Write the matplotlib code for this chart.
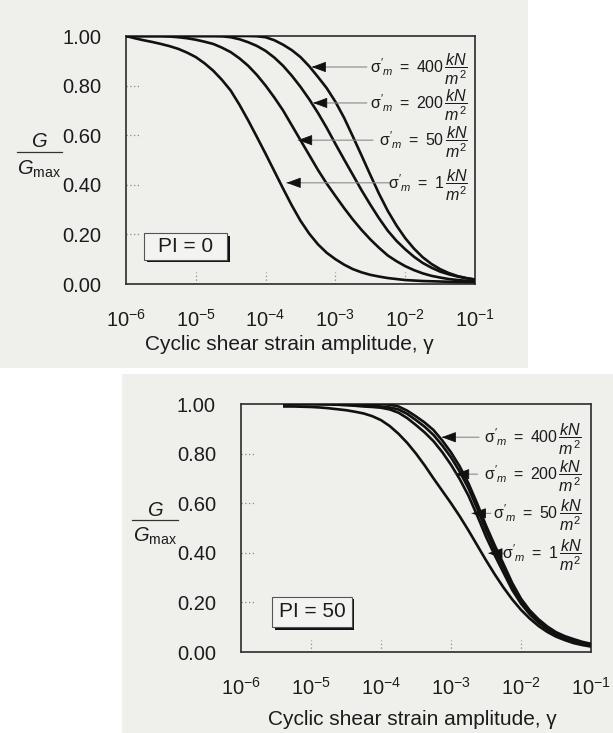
import numpy as np
import matplotlib
matplotlib.use('Agg')
import matplotlib.pyplot as plt
from matplotlib.patches import Rectangle
from matplotlib.lines import Line2D
from matplotlib.ticker import NullLocator
from matplotlib import transforms

plt.rcParams['font.family'] = ['Liberation Sans', 'DejaVu Sans']
plt.rcParams['mathtext.fontset'] = 'custom'
plt.rcParams['mathtext.rm'] = 'Liberation Sans'
plt.rcParams['mathtext.it'] = 'Liberation Sans:italic'
plt.rcParams['mathtext.bf'] = 'Liberation Sans:bold'
plt.rcParams['mathtext.default'] = 'regular'

# ---------------- data ----------------
# log10 of cyclic shear strain amplitude, top panel (PI = 0)
log_strain_top = [-6.0, -5.875, -5.75, -5.625, -5.5, -5.375, -5.25, -5.125, -5.0, -4.875,
                  -4.75, -4.625, -4.5, -4.375, -4.25, -4.125, -4.0, -3.875, -3.75, -3.625,
                  -3.5, -3.375, -3.25, -3.125, -3.0, -2.875, -2.75, -2.625, -2.5, -2.375,
                  -2.25, -2.125, -2.0, -1.875, -1.75, -1.625, -1.5, -1.375, -1.25, -1.125, -1.0]
g_top_1 = [1.0, 0.991, 0.983, 0.976, 0.968, 0.959, 0.948, 0.933, 0.915, 0.89,
           0.86, 0.823, 0.78, 0.723, 0.66, 0.593, 0.525, 0.455, 0.385, 0.317,
           0.255, 0.203, 0.16, 0.126, 0.10, 0.078, 0.06, 0.047, 0.037, 0.03,
           0.024, 0.02, 0.016, 0.014, 0.012, 0.011, 0.01, 0.009, 0.008, 0.0075, 0.007]
g_top_50 = [1.0, 1.0, 1.0, 1.0, 1.0, 0.998, 0.995, 0.991, 0.985, 0.977,
            0.968, 0.953, 0.935, 0.91, 0.88, 0.843, 0.80, 0.752, 0.70, 0.64,
            0.58, 0.52, 0.46, 0.405, 0.355, 0.306, 0.26, 0.218, 0.18, 0.146,
            0.115, 0.092, 0.072, 0.056, 0.043, 0.033, 0.026, 0.02, 0.016, 0.013, 0.01]
g_top_200 = [1.0, 1.0, 1.0, 1.0, 1.0, 1.0, 1.0, 1.0, 1.0, 1.0,
             1.0, 0.999, 0.995, 0.987, 0.975, 0.96, 0.94, 0.913, 0.88, 0.84,
             0.795, 0.745, 0.69, 0.63, 0.565, 0.502, 0.44, 0.378, 0.32, 0.265,
             0.215, 0.174, 0.14, 0.11, 0.085, 0.066, 0.05, 0.039, 0.03, 0.023, 0.018]
g_top_400 = [1.0, 1.0, 1.0, 1.0, 1.0, 1.0, 1.0, 1.0, 1.0, 1.0,
             1.0, 1.0, 1.0, 1.0, 1.0, 0.999, 0.995, 0.983, 0.965, 0.943,
             0.915, 0.878, 0.835, 0.79, 0.735, 0.67, 0.595, 0.518, 0.44, 0.364,
             0.295, 0.236, 0.185, 0.143, 0.108, 0.081, 0.06, 0.044, 0.032, 0.024, 0.018]

# bottom panel (PI = 50)
log_strain_bot = [-5.4, -5.25, -5.125, -5.0, -4.875, -4.75, -4.625, -4.5, -4.375, -4.25,
                  -4.125, -4.0, -3.875, -3.75, -3.625, -3.5, -3.375, -3.25, -3.125, -3.0,
                  -2.875, -2.75, -2.625, -2.5, -2.375, -2.25, -2.125, -2.0, -1.875, -1.75,
                  -1.625, -1.5, -1.375, -1.25, -1.125, -1.0]
g_bot_1 = [0.99, 0.99, 0.989, 0.988, 0.986, 0.983, 0.979, 0.975, 0.969, 0.962,
           0.951, 0.935, 0.911, 0.88, 0.843, 0.80, 0.752, 0.70, 0.65, 0.60,
           0.547, 0.49, 0.43, 0.37, 0.313, 0.26, 0.212, 0.17, 0.135, 0.105,
           0.081, 0.062, 0.048, 0.036, 0.028, 0.022]
g_bot_50 = [1.0, 1.0, 1.0, 1.0, 0.999, 0.998, 0.997, 0.995, 0.993, 0.99,
            0.988, 0.985, 0.978, 0.965, 0.943, 0.915, 0.885, 0.85, 0.806, 0.755,
            0.697, 0.63, 0.55, 0.465, 0.39, 0.32, 0.25, 0.195, 0.152, 0.118,
            0.091, 0.07, 0.055, 0.044, 0.035, 0.028]
g_bot_200 = [1.0, 1.0, 1.0, 1.0, 1.0, 1.0, 1.0, 1.0, 0.998, 0.995,
             0.993, 0.99, 0.986, 0.978, 0.96, 0.935, 0.908, 0.875, 0.833, 0.785,
             0.727, 0.66, 0.578, 0.49, 0.41, 0.34, 0.265, 0.205, 0.16, 0.125,
             0.097, 0.075, 0.06, 0.048, 0.038, 0.03]
g_bot_400 = [1.0, 1.0, 1.0, 1.0, 1.0, 1.0, 1.0, 1.0, 1.0, 1.0,
             1.0, 1.0, 0.997, 0.99, 0.973, 0.95, 0.925, 0.895, 0.853, 0.805,
             0.748, 0.68, 0.598, 0.51, 0.43, 0.355, 0.278, 0.215, 0.168, 0.132,
             0.103, 0.08, 0.064, 0.052, 0.041, 0.033]

sigma_labels = ['400', '200', '50', '1']
y_ticks = [0.0, 0.2, 0.4, 0.6, 0.8, 1.0]
x_exponents = [-6, -5, -4, -3, -2, -1]

# arrow tips / tails (log10 strain, G) for 400, 200, 50, 1
top_tip_log = [-3.34, -3.32, -3.536, -3.70]
top_tail_log = [-2.55, -2.55, -2.46, -2.22]
top_arrow_g = [0.875, 0.73, 0.58, 0.408]
bot_tip_log = [-3.133, -2.943, -2.704, -2.467]
bot_tail_log = [-2.60, -2.62, -2.43, -2.25]
bot_arrow_g = [0.866, 0.717, 0.559, 0.398]

# ---------------- figure ----------------
W, H = 613, 733
fig = plt.figure(figsize=(W / 100, H / 100), dpi=100)
fig.patch.set_facecolor('white')


def fx(px):
    return px / W


def fy(py):
    return 1 - py / H


scan = '#efefec'
fig.patches.append(Rectangle((0, fy(368)), fx(528), 1 - fy(368), transform=fig.transFigure,
                             facecolor=scan, edgecolor='none', zorder=-5))
fig.patches.append(Rectangle((fx(122), 0), 1 - fx(122), fy(374), transform=fig.transFigure,
                             facecolor=scan, edgecolor='none', zorder=-5))

ax1 = fig.add_axes([fx(126), fy(284), fx(475) - fx(126), fy(36) - fy(284)])
ax2 = fig.add_axes([fx(241), fy(652), fx(591) - fx(241), fy(404) - fy(652)])

ink = '#1c1c1c'


def style(ax, wpx, hpx, xlab_xy):
    ax.set_xscale('log')
    ax.set_xlim(1e-6, 1e-1)
    ax.set_ylim(0, 1)
    ax.patch.set_alpha(0)
    ax.set_xticks([10.0 ** e for e in x_exponents])
    ax.set_xticklabels([rf'$10^{{{e}}}$' for e in x_exponents])
    ax.xaxis.set_minor_locator(NullLocator())
    ax.set_yticks(y_ticks)
    ax.set_yticklabels([f'{v:.2f}' for v in y_ticks])
    ax.tick_params(length=0, labelsize=14.5, colors=ink)
    ax.tick_params(axis='y', pad=18)
    ax.tick_params(axis='x', pad=18)
    for s in ax.spines.values():
        s.set_linewidth(1.25)
        s.set_color('#333333')
    ax.set_xlabel('Cyclic shear strain amplitude, γ', fontsize=15, color=ink)
    ax.xaxis.set_label_coords(*xlab_xy)
    ty = ax.get_yaxis_transform()
    for v in y_ticks[1:-1]:
        ax.plot([0, 14 / wpx], [v, v], transform=ty, ls=(0, (1, 2)), color='#888', lw=0.9)
    tx = ax.get_xaxis_transform()
    for e in x_exponents[1:-1]:
        ax.plot([10.0 ** e] * 2, [0, 12 / hpx], transform=tx, ls=(0, (1, 2)), color='#888', lw=0.9)


style(ax1, 349, 248, (0.4685, -0.205))
style(ax2, 350, 248, (0.4886, -0.234))

curve_kw = dict(color='#111111', lw=1.9, solid_capstyle='butt', solid_joinstyle='round', zorder=3)
xt = 10.0 ** np.array(log_strain_top)
for g in (g_top_1, g_top_50, g_top_200, g_top_400):
    ax1.plot(xt, g, **curve_kw)
xb = 10.0 ** np.array(log_strain_bot)
for g in (g_bot_1, g_bot_50, g_bot_200, g_bot_400):
    ax2.plot(xb, g, **curve_kw)


def arrows_and_labels(ax, tips, tails, gs, xright):
    tr = transforms.blended_transform_factory(ax.transAxes, ax.transData)
    for lab, tip, tail, g in zip(sigma_labels, tips, tails, gs):
        ax.annotate('', xy=(10.0 ** tip, g), xytext=(10.0 ** tail, g),
                    arrowprops=dict(arrowstyle='-', color='#8a8a8a', lw=0.8,
                                    shrinkA=0, shrinkB=0), zorder=4)
        ax.annotate('', xy=(10.0 ** tip, g), xytext=(9, 0), textcoords='offset points',
                    arrowprops=dict(arrowstyle='-|>,head_length=0.6,head_width=0.22',
                                    color='#111111', lw=0.6, shrinkA=0, shrinkB=0,
                                    mutation_scale=15), zorder=5)
        txt = (r"$\sigma'_{\mathit{m}}\ =\ " + lab +
               r"\,\dfrac{\mathit{kN}}{\mathit{m}^{2}}$")
        ax.text(xright, g - 0.008, txt, transform=tr, ha='right', va='center',
                fontsize=11.5, color=ink, zorder=6)


arrows_and_labels(ax1, top_tip_log, top_tail_log, top_arrow_g, 0.98)
arrows_and_labels(ax2, bot_tip_log, bot_tail_log, bot_arrow_g, 0.974)


def pi_box(ax, text, x0, y0, x1, y1, wpx, hpx):
    dx, dy = 2.5 / wpx, 2.5 / hpx
    ax.add_patch(Rectangle((x0 + dx, y0 - dy), x1 - x0, y1 - y0, transform=ax.transAxes,
                           facecolor='#111111', edgecolor='none', zorder=6))
    ax.add_patch(Rectangle((x0, y0), x1 - x0, y1 - y0, transform=ax.transAxes,
                           facecolor='#f3f3f1', edgecolor='#555555', lw=0.8, zorder=7))
    ax.text((x0 + x1) / 2, (y0 + y1) / 2, text, transform=ax.transAxes, ha='center',
            va='center', fontsize=15, color=ink, zorder=8)


pi_box(ax1, 'PI = 0', 0.0516, 0.0968, 0.2894, 0.2056, 349, 248)
pi_box(ax2, 'PI = 50', 0.0886, 0.1008, 0.3171, 0.2218, 350, 248)


def ylabel_frac(xc, y_num, y_bar, y_den, xb0, xb1):
    fig.text(fx(xc), fy(y_num), r'$\mathit{G}$', ha='center', va='center', fontsize=14.5, color=ink)
    fig.add_artist(Line2D([fx(xb0), fx(xb1)], [fy(y_bar)] * 2, transform=fig.transFigure,
                          color='#333333', lw=0.9))
    fig.text(fx(xc), fy(y_den), r'$\mathit{G}_{\mathrm{max}}$', ha='center', va='center',
             fontsize=14.5, color=ink)


ylabel_frac(39.5, 141.5, 152, 169, 17, 62)
ylabel_frac(155, 511, 520, 536, 132, 178)

fig.savefig('out.png', dpi=100)
